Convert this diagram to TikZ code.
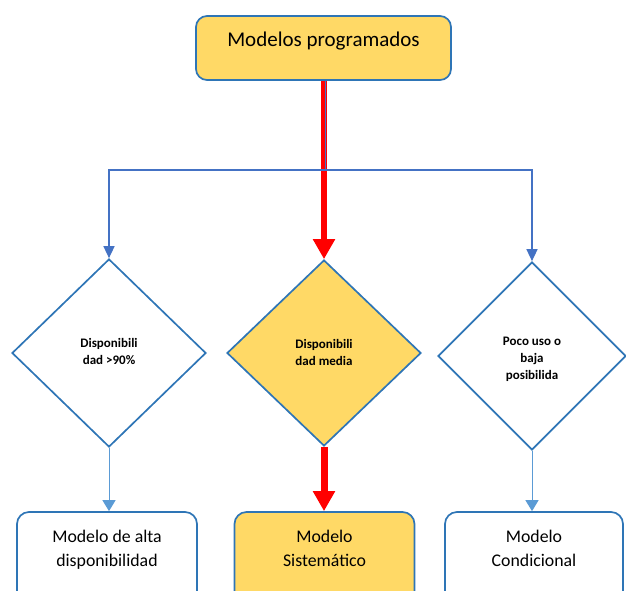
\documentclass[tikz,border=0pt]{standalone}
\usepackage{fontspec}
\setmainfont{Carlito}
\usetikzlibrary{shapes.geometric,arrows.meta}
\definecolor{gold}{HTML}{FFD966}
\definecolor{edgeblue}{HTML}{2E75B6}
\definecolor{connblue}{HTML}{4472C4}
\definecolor{lightblue}{HTML}{5B9BD5}
\definecolor{redarrow}{HTML}{FF0000}
\begin{document}
\begin{tikzpicture}[x=1pt,y=-1pt,
  topbox/.style={draw=edgeblue, line width=1.7pt, rounded corners=11pt, fill=gold,
    minimum width=255pt, minimum height=64pt, inner sep=0pt,
    font=\fontsize{21}{25}\selectfont, text height=14.5pt, text depth=18.5pt},
  lowbox/.style={draw=edgeblue, line width=1.7pt, rounded corners=12pt,
    minimum width=180pt, minimum height=100pt, inner sep=0pt},
  lowtext/.style={font=\fontsize{17.8}{24}\selectfont, align=center, inner sep=0pt},
  dia/.style={draw=edgeblue, line width=1.7pt, diamond, inner sep=0pt,
    minimum width=194pt, minimum height=188pt},
  diatext/.style={font=\bfseries\fontsize{13}{17}\selectfont, align=center, inner sep=0pt},
  conn/.style={draw=connblue, line width=1.5pt},
  connarrow/.style={conn, -{Triangle[length=12pt,width=11pt]}},
  lightarrow/.style={draw=lightblue, line width=1pt, -{Triangle[length=11pt,width=13pt]}},
  redline/.style={draw=redarrow, line width=6.5pt, -{Triangle[length=20pt,width=21pt]}}
]
\useasboundingbox (0,0) rectangle (626,590);
\clip (0,0) rectangle (626,590);

% top box
\node[topbox] (top) at (323.5,48) {Modelos programados};

% diamonds
\node[dia] (d1) at (109,353) {};
\node[dia, fill=gold, minimum height=186pt] (d2) at (324,353) {};
\node[dia, minimum width=188pt] (d3) at (532,356) {};
\node[diatext] (l1) at (109,351) {Disponibili\\dad >90\%};
\node[diatext] (l2) at (324,352) {Disponibili\\dad media};
\node[diatext] (l3) at (532,359) {Poco uso o\\baja\\posibilida};

% bottom boxes
\node[lowbox] (b1) at (107,562) {};
\node[lowbox, fill=gold] (b2) at (324.5,562) {};
\node[lowbox, minimum width=178pt] (b3) at (534,562) {};
\node[lowtext] (t1) at (107,550) {Modelo de alta\\disponibilidad};
\node[lowtext] (t2) at (324.5,548) {Modelo\\Sistemático};
\node[lowtext] (t3) at (534,548) {Modelo\\Condicional};

% red main path
\draw[redline] (top.south -| d2.north) -- (d2.north);

% blue branching
\coordinate (j) at (325.5,170);
\draw[conn] (top.south -| j) -- (j);
\draw[connarrow] (j) -| (d1.north);
\draw[connarrow] (j) -| (d3.north);

% diamonds to boxes
\draw[lightarrow] (d1.south) -- (d1.south |- b1.north);
\draw[redline, line width=7pt] (d2.south) -- (d2.south |- b2.north);
\draw[lightarrow] (d3.south) -- (d3.south |- b3.north);
\end{tikzpicture}
\end{document}
